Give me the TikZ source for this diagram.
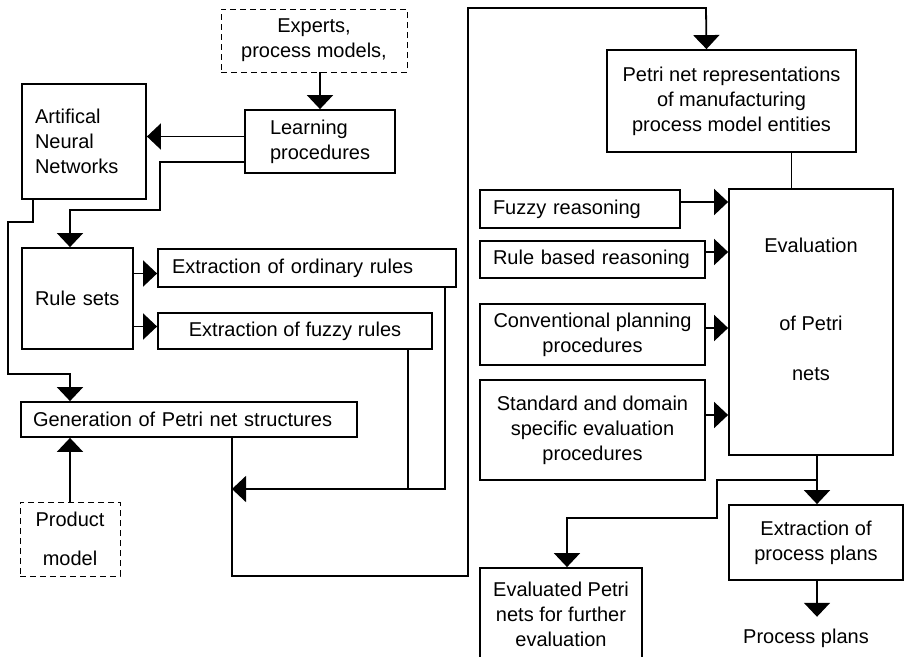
\documentclass[tikz,border=0pt]{standalone}
\usepackage{fontspec}
\setmainfont{Liberation Sans}
\usetikzlibrary{arrows.meta}

\begin{document}
\begin{tikzpicture}[x=1pt,y=-1pt,>={Triangle[width=26pt,length=14pt]},line width=1.8pt,
    box/.style={draw,inner sep=0pt,align=center,font=\fontsize{20}{25}\selectfont},
    dbox/.style={box,line width=0.9pt,dash pattern=on 6pt off 4pt}]
  \useasboundingbox (0,0) rectangle (904,656);

  % left column
  \node[dbox,minimum width=186pt,minimum height=63pt] (expt) at (314,40.5) {Experts,\\process models,};
  \node[box,minimum width=124pt,minimum height=115pt,text width=98pt,align=left] (ann) at (84,141.5) {Artifical\\Neural\\Networks};
  \node[box,minimum width=150pt,minimum height=63pt,text width=100pt,align=left] (learn) at (320,141.5) {Learning\\procedures};
  \node[box,minimum width=111pt,minimum height=101pt,text width=85pt,align=left] (rules) at (77.5,298.5) {Rule sets};
  \node[box,minimum width=298pt,minimum height=38pt,text width=270pt,align=left] (ordx) at (307,268) {Extraction of ordinary rules};
  \node[box,minimum width=274pt,minimum height=36pt] (fuzx) at (295,331) {Extraction of fuzzy rules};
  \node[box,minimum width=336pt,minimum height=35pt,text width=312pt,align=left] (gen) at (189,419.5) {Generation of Petri net structures};
  \node[dbox,minimum width=100pt,minimum height=74pt] (prod) at (70,539) {Product\\[14pt]model};

  % right column
  \node[box,minimum width=249pt,minimum height=102pt] (rep) at (731.5,101) {Petri net representations\\of manufacturing\\process model entities};
  \node[box,minimum width=164pt,minimum height=266pt] (eval) at (811,322) {Evaluation\\[53pt]of Petri\\[25pt]nets\\\mbox{}};
  \node[box,minimum width=200pt,minimum height=38pt,text width=174pt,align=left] (fzr) at (580,209) {Fuzzy reasoning};
  \node[box,minimum width=225pt,minimum height=37pt,text width=199pt,align=left] (rbr) at (592.5,259.5) {Rule based reasoning};
  \node[box,minimum width=225pt,minimum height=61pt] (cpp) at (592.5,334.5) {Conventional planning\\procedures};
  \node[box,minimum width=225pt,minimum height=100pt] (sde) at (592.5,430) {Standard and domain\\specific evaluation\\procedures};
  \node[box,minimum width=174pt,minimum height=75pt] (xpp) at (816,542.5) {Extraction of\\process plans};
  \node[box,minimum width=162pt,minimum height=92pt] (evd) at (561,614) {Evaluated Petri\\nets for further\\evaluation};
  \node[box,draw=none,inner sep=11pt] (pp) at (806,638) {Process plans};

  \coordinate (m1) at (232,489);
  \coordinate (b1) at (817,480);

  % connectors
  \draw[->] (expt.south -| learn.north) -- (learn.north);
  \draw[->] ([yshift=5pt]learn.west) -- ([yshift=5pt]learn.west -| ann.east);
  \draw[->] ([yshift=-20.5pt]learn.west) -| (160,210) -| ([xshift=-7.5pt]rules.north);
  \draw[->] ([xshift=-51pt]ann.south) |- (8,222) |- (70,374) -- ([xshift=-119pt]gen.north);
  \draw[->] ([yshift=25pt]rules.east) -- ([yshift=25pt]rules.east -| ordx.west);
  \draw[->] ([yshift=-28pt]rules.east) -- ([yshift=-28pt]rules.east -| fuzx.west);
  \draw[->] (prod.north) -- (prod.north |- gen.south);
  \draw[->] ([xshift=-12pt]ordx.south east) |- (m1);
  \draw ([xshift=-25pt]fuzx.south east) -- ([xshift=-25pt]fuzx.south east |- m1);
  \draw[->] (gen.south -| m1) |- (468,576) |- (706,8) -- ([xshift=-25pt]rep.north);
  \draw ([xshift=60pt]rep.south) -- ([xshift=60pt]rep.south |- eval.north);
  \draw[->] ([yshift=7pt]fzr.east) -- ([yshift=7pt]fzr.east -| eval.west);
  \draw[->] ([yshift=7.5pt]rbr.east) -- ([yshift=7.5pt]rbr.east -| eval.west);
  \draw[->] ([yshift=6.5pt]cpp.east) -- ([yshift=6.5pt]cpp.east -| eval.west);
  \draw[->] ([yshift=15pt]sde.east) -- ([yshift=15pt]sde.east -| eval.west);
  \draw[->] (eval.south -| b1) -- (b1 |- xpp.north);
  \draw[->] (b1) -| (717,518) -| ([xshift=6pt]evd.north);
  \draw[->] (xpp.south -| b1) -- (b1 |- pp.north);
\end{tikzpicture}
\end{document}
